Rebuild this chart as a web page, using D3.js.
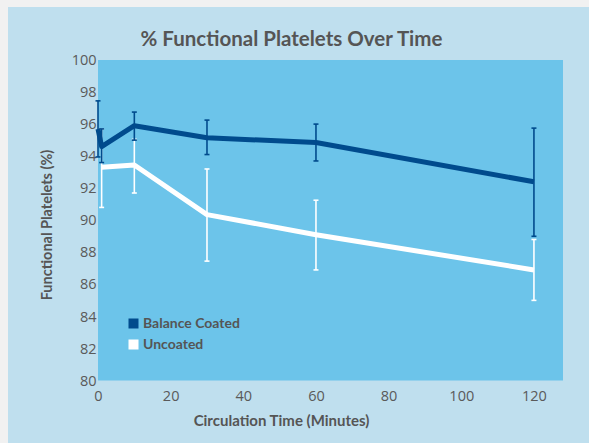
<!DOCTYPE html>
<html><head><meta charset="utf-8">
<script src="https://cdn.jsdelivr.net/npm/d3@7"></script>
<style>
html,body{margin:0;padding:0;background:#f1f1f1;}
svg{display:block;}
text{font-family:Lato,"Open Sans",sans-serif;fill:#555;}
</style></head><body>
<script>
const title = "% Functional Platelets Over Time";
const xTitle = "Circulation Time (Minutes)";
const yTitle = "Functional Platelets (%)";
const seriesNames = ["Balance Coated", "Uncoated"];

const balanceX  = [0, 1, 10, 30, 60, 120];
const balanceY  = [95.7, 94.6, 95.9, 95.15, 94.85, 92.4];
const balanceHi = [97.45, 95.7, 96.75, 96.25, 96.0, 95.75];
const balanceLo = [93.95, 93.6, 95.0, 94.1, 93.7, 89.0];

const uncoatedX  = [1, 10, 30, 60, 120];
const uncoatedY  = [93.3, 93.45, 90.35, 89.1, 86.9];
const uncoatedHi = [95.7, 95.05, 93.2, 91.25, 88.8];
const uncoatedLo = [90.8, 91.7, 87.45, 86.9, 85.0];

const xTicks = [0, 20, 40, 60, 80, 100, 120];
const yTicks = [80, 82, 84, 86, 88, 90, 92, 94, 96, 98, 100];

const W = 589, H = 443;
const svg = d3.select("body").append("svg").attr("width", W).attr("height", H);
svg.append("rect").attr("x", 8).attr("y", 7).attr("width", W - 8).attr("height", H - 7).attr("fill", "#bfdfee");

const m = {l: 98, t: 60, r: 563, b: 380.5};
const x = d3.scaleLinear().domain([0, 128]).range([m.l, m.r]);
const y = d3.scaleLinear().domain([80, 100]).range([m.b, m.t]);

svg.append("rect").attr("x", m.l).attr("y", m.t).attr("width", m.r - m.l).attr("height", m.b - m.t).attr("fill", "#6cc4ea");

// axes
const yAxis = svg.append("g").attr("transform", `translate(${m.l},0)`)
  .call(d3.axisLeft(y).tickValues(yTicks).tickSize(0).tickPadding(1.5));
const xAxis = svg.append("g").attr("transform", `translate(0,${m.b})`)
  .call(d3.axisBottom(x).tickValues(xTicks).tickSize(0).tickPadding(10.5));
[yAxis, xAxis].forEach(g => {
  g.select(".domain").remove();
  g.selectAll("text").style("font-size", "14.5px").style("fill", "#5a5a5a").style("font-family", "'Open Sans',sans-serif");
});

svg.append("text").attr("x", 291.5).attr("y", 46).attr("text-anchor", "middle")
  .style("font-size", "20.5px").style("font-weight", "bold").text(title);
svg.append("text").attr("x", 281.5).attr("y", 426).attr("text-anchor", "middle")
  .style("font-size", "15px").style("font-weight", "bold").text(xTitle);
svg.append("text").attr("transform", "translate(52,225) rotate(-90)").attr("text-anchor", "middle")
  .style("font-size", "14.5px").style("font-weight", "bold").text(yTitle);

function drawSeries(xs, ys, hi, lo, color) {
  const pts = xs.map((d, i) => ({x: d, y: ys[i], hi: hi[i], lo: lo[i]}));
  svg.append("path").datum(pts)
    .attr("d", d3.line().x(d => x(d.x)).y(d => y(d.y)))
    .attr("fill", "none").attr("stroke", color).attr("stroke-width", 5).attr("stroke-linejoin", "round");
  const g = svg.append("g").attr("stroke", color).attr("stroke-width", 1.6);
  pts.forEach(d => {
    g.append("line").attr("x1", x(d.x)).attr("x2", x(d.x)).attr("y1", y(d.hi)).attr("y2", y(d.lo));
    g.append("line").attr("x1", x(d.x) - 2.5).attr("x2", x(d.x) + 2.5).attr("y1", y(d.hi)).attr("y2", y(d.hi));
    g.append("line").attr("x1", x(d.x) - 2.5).attr("x2", x(d.x) + 2.5).attr("y1", y(d.lo)).attr("y2", y(d.lo));
  });
}
drawSeries(uncoatedX, uncoatedY, uncoatedHi, uncoatedLo, "#ffffff");
drawSeries(balanceX, balanceY, balanceHi, balanceLo, "#004b8d");

// legend
const legColors = ["#004b8d", "#ffffff"];
seriesNames.forEach((n, i) => {
  const yy = 318.5 + i * 21;
  svg.append("rect").attr("x", 128.5).attr("y", yy).attr("width", 10).attr("height", 10).attr("fill", legColors[i]);
  svg.append("text").attr("x", 143).attr("y", yy + 9.5).style("font-size", "14px").style("font-weight", "bold").text(n);
});
</script>
</body></html>
